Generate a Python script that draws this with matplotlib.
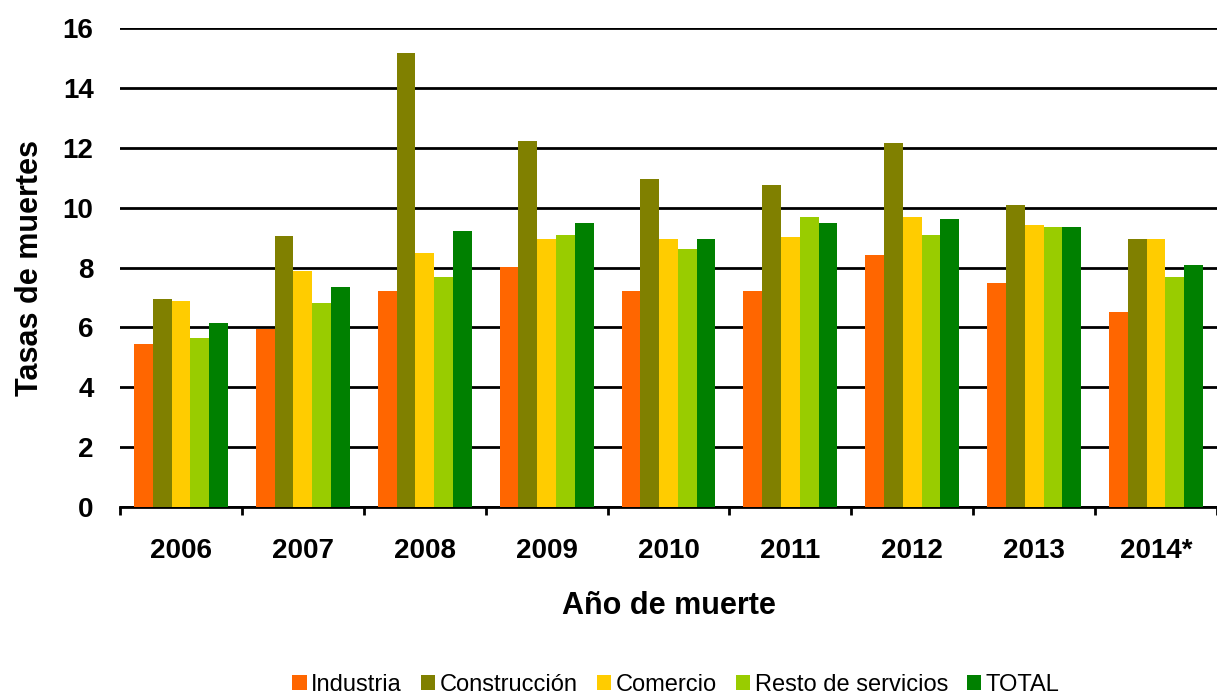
import matplotlib
matplotlib.use("Agg")
import matplotlib.pyplot as plt
import numpy as np

years = ["2006", "2007", "2008", "2009", "2010", "2011", "2012", "2013", "2014*"]
series_names = ["Industria", "Construcción", "Comercio", "Resto de servicios", "TOTAL"]
industria = [5.46, 5.93, 7.20, 8.01, 7.20, 7.20, 8.41, 7.47, 6.53]
construccion = [6.94, 9.06, 15.15, 12.21, 10.94, 10.75, 12.15, 10.08, 8.94]
comercio = [6.87, 7.87, 8.47, 8.94, 8.94, 9.01, 9.68, 9.41, 8.94]
resto = [5.66, 6.80, 7.67, 9.08, 8.61, 9.68, 9.08, 9.34, 7.67]
total = [6.13, 7.34, 9.21, 9.48, 8.94, 9.48, 9.61, 9.34, 8.07]
colors = ["#FF6600", "#808000", "#FFCC00", "#99CC00", "#008000"]
yticks = [0, 2, 4, 6, 8, 10, 12, 14, 16]

plt.rcParams['font.family'] = ['Liberation Sans', 'DejaVu Sans']

fig = plt.figure(figsize=(12.17, 6.95), dpi=100)
ax = fig.add_axes([120/1217, 1 - 507/695, 1097/1217, (507-28)/695])

data = [industria, construccion, comercio, resto, total]
x = np.arange(len(years))
bw = 0.154
for i, (vals, c, name) in enumerate(zip(data, colors, series_names)):
    ax.bar(x + (i - 2) * bw, vals, width=bw, color=c, label=name, zorder=3)

ax.set_xlim(-0.5, len(years) - 0.5)
ax.set_ylim(0, 16)
ax.set_yticks(yticks)
ax.set_yticklabels([str(v) for v in yticks], fontsize=20, fontweight='bold')
ax.yaxis.grid(True, color='black', linewidth=2, zorder=0)
ax.set_axisbelow(True)
ax.tick_params(axis='y', length=0, pad=19)

ax.set_xticks(x)
ax.set_xticklabels(years, fontsize=20, fontweight='bold')
ax.set_xticks(np.arange(-0.5, len(years), 1.0), minor=True)
ax.tick_params(axis='x', which='major', length=0, pad=22)
ax.tick_params(axis='x', which='minor', length=6, width=2, direction='out')

for s in ['left', 'right', 'top']:
    ax.spines[s].set_visible(False)
ax.spines['bottom'].set_linewidth(2)

ax.set_xlabel("Año de muerte", fontsize=22, fontweight='bold', labelpad=20)
ax.set_ylabel("Tasas de muertes", fontsize=22, fontweight='bold', labelpad=13)

leg = fig.legend(loc='center', bbox_to_anchor=(676/1217, 1 - 685/695), ncol=5,
                 frameon=False, handlelength=0.6, handleheight=0.6,
                 handletextpad=0.2, columnspacing=0.8,
                 prop={'family': ['Liberation Sans', 'DejaVu Sans'], 'size': 17})

fig.savefig("out.png", dpi=100)
